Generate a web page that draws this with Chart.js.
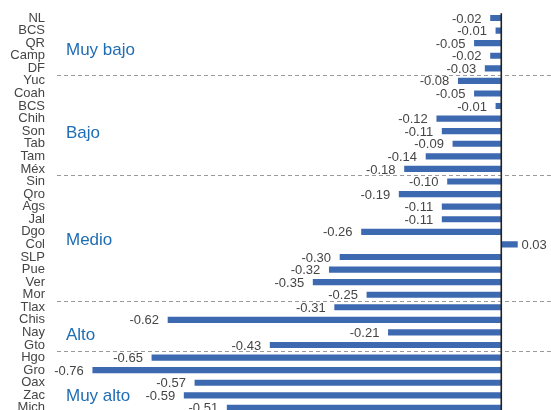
<!DOCTYPE html>
<html>
<head>
<meta charset="utf-8">
<script src="https://cdn.jsdelivr.net/npm/chart.js@4/dist/chart.umd.min.js"></script>
<style>
  html, body { margin: 0; padding: 0; background: #ffffff; overflow: hidden; }
  #wrap { position: relative; width: 551px; height: 425px; }
</style>
</head>
<body>
<div id="wrap"><canvas id="c"></canvas></div>
<script>
const categories = ['NL','BCS','QR','Camp','DF','Yuc','Coah','BCS','Chih','Son','Tab','Tam','Méx',
  'Sin','Qro','Ags','Jal','Dgo','Col','SLP','Pue','Ver','Mor','Tlax','Chis','Nay','Gto',
  'Hgo','Gro','Oax','Zac','Mich'];
const values = [-0.02,-0.01,-0.05,-0.02,-0.03,-0.08,-0.05,-0.01,-0.12,-0.11,-0.09,-0.14,-0.18,
  -0.10,-0.19,-0.11,-0.11,-0.26,0.03,-0.30,-0.32,-0.35,-0.25,-0.31,-0.62,-0.21,-0.43,
  -0.65,-0.76,-0.57,-0.59,-0.51];
const groupNames = ['Muy bajo','Bajo','Medio','Alto','Muy alto'];
const groupStarts = [0,5,13,23,27];

const BAR = '#3d69b0';
const GROUP_BLUE = '#1f6db4';
const TEXT = '#454545';

const decor = {
  id: 'decor',
  afterDatasetsDraw(chart, args, opts) {
    const ctx = chart.ctx;
    const xs = chart.scales.x, ys = chart.scales.y;
    const area = chart.chartArea;
    ctx.save();
    ctx.strokeStyle = '#9a9a9a';
    ctx.lineWidth = 1;
    ctx.setLineDash([4, 3]);
    groupStarts.forEach((s, gi) => {
      if (gi === 0) return;
      const y = Math.round(ys.getPixelForValue(s - 0.5)) + 0.5;
      ctx.beginPath();
      ctx.moveTo(area.left + 9, y);
      ctx.lineTo(chart.width, y);
      ctx.stroke();
    });
    ctx.setLineDash([]);
    const x0 = xs.getPixelForValue(0);
    ctx.strokeStyle = '#222222';
    ctx.lineWidth = 1.6;
    ctx.beginPath();
    ctx.moveTo(x0, area.top + 1.5);
    ctx.lineTo(x0, chart.height);
    ctx.stroke();
    const meta = chart.getDatasetMeta(0);
    ctx.fillStyle = TEXT;
    ctx.font = '13px "Liberation Sans", Arial, sans-serif';
    ctx.textBaseline = 'middle';
    meta.data.forEach((bar, i) => {
      const v = values[i];
      const txt = v.toFixed(2);
      if (v < 0) {
        ctx.textAlign = 'right';
        ctx.fillText(txt, bar.x - 9, bar.y + 1);
      } else {
        ctx.textAlign = 'left';
        ctx.fillText(txt, bar.x + 4, bar.y + 1);
      }
    });
    ctx.fillStyle = GROUP_BLUE;
    ctx.font = '17px "Liberation Sans", Arial, sans-serif';
    ctx.textAlign = 'left';
    groupNames.forEach((name, gi) => {
      const y = ys.getPixelForValue(opts.labelRows[gi]);
      ctx.fillText(name, area.left + 18, y);
    });
    ctx.restore();
  }
};

new Chart(document.getElementById('c'), {
  type: 'bar',
  data: {
    labels: categories,
    datasets: [{
      data: values,
      backgroundColor: BAR,
      borderWidth: 0,
      barThickness: 5.5
    }]
  },
  options: {
    indexAxis: 'y',
    responsive: true,
    maintainAspectRatio: false,
    animation: false,
    events: [],
    layout: { padding: { top: 11.7, bottom: 0, left: 0, right: 0 } },
    scales: {
      x: {
        display: false,
        min: -0.8433,
        max: 0.0925
      },
      y: {
        position: 'left',
        grid: { display: false, drawTicks: false },
        border: { display: false },
        ticks: {
          autoSkip: false,
          padding: 3,
          color: TEXT,
          font: { family: '"Liberation Sans", Arial, sans-serif', size: 13 }
        },
        afterFit(scale) { scale.width = 48; }
      }
    },
    plugins: {
      legend: { display: false },
      tooltip: { enabled: false },
      title: { display: false },
      decor: { labelRows: [2.55, 9.15, 17.7, 25.2, 30.1] }
    }
  },
  plugins: [decor]
});
</script>
</body>
</html>
